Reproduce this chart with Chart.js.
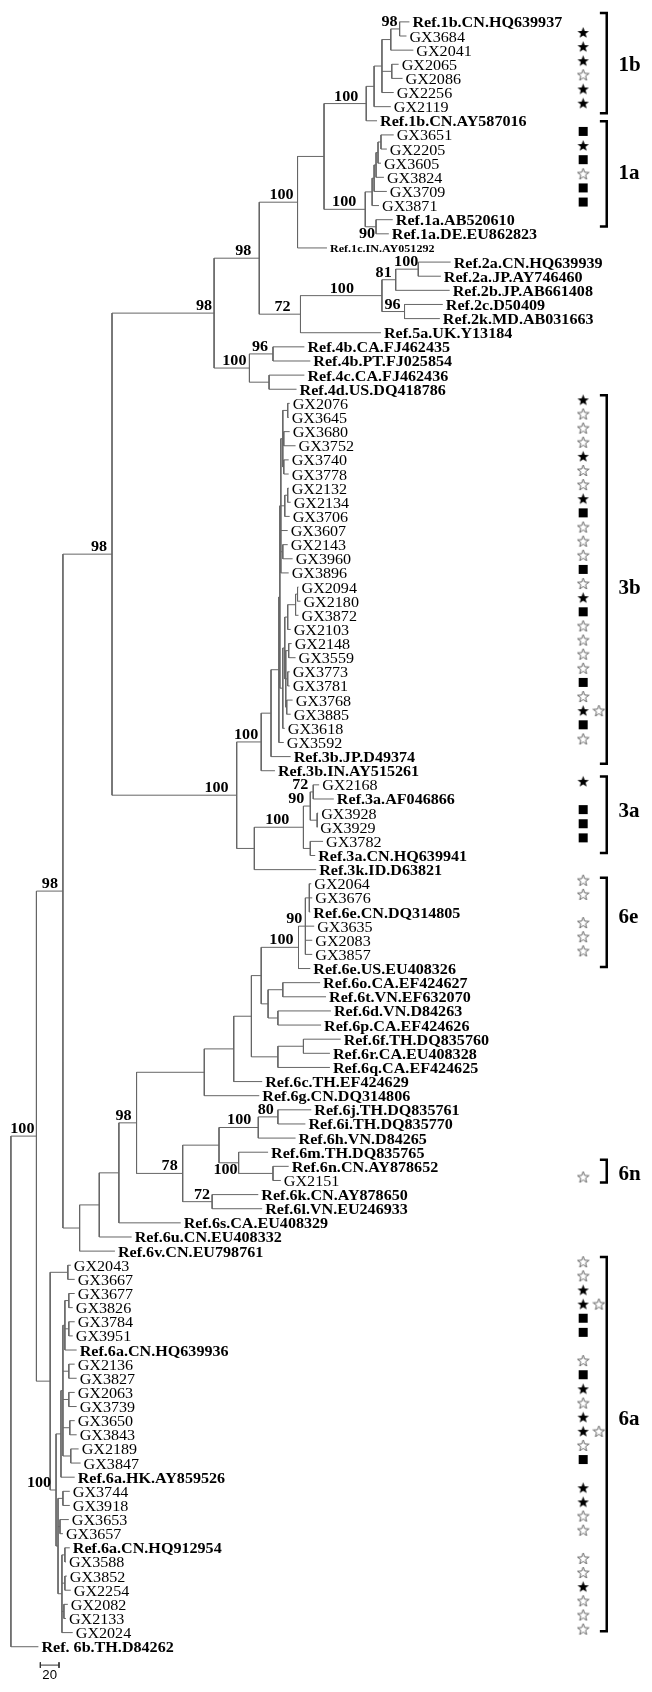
<!DOCTYPE html>
<html>
<head>
<meta charset="utf-8">
<script src="https://cdn.jsdelivr.net/npm/chart.js@4.4.1/dist/chart.umd.min.js"></script>
<style>
  html, body { margin: 0; padding: 0; background: #fff; }
  #wrap { width: 652px; height: 1692px; position: relative; }
</style>
</head>
<body>
<div id="wrap"><canvas id="tree"></canvas></div>
<script>
// leaves, top to bottom
const leafNames = [
  'Ref.1b.CN.HQ639937', 'GX3684', 'GX2041', 'GX2065', 'GX2086', 'GX2256', 'GX2119', 'Ref.1b.CN.AY587016',
  'GX3651', 'GX2205', 'GX3605', 'GX3824', 'GX3709', 'GX3871', 'Ref.1a.AB520610', 'Ref.1a.DE.EU862823',
  'Ref.1c.IN.AY051292', 'Ref.2a.CN.HQ639939', 'Ref.2a.JP.AY746460', 'Ref.2b.JP.AB661408', 'Ref.2c.D50409',
  'Ref.2k.MD.AB031663', 'Ref.5a.UK.Y13184', 'Ref.4b.CA.FJ462435', 'Ref.4b.PT.FJ025854', 'Ref.4c.CA.FJ462436',
  'Ref.4d.US.DQ418786', 'GX2076', 'GX3645', 'GX3680', 'GX3752', 'GX3740', 'GX3778', 'GX2132', 'GX2134',
  'GX3706', 'GX3607', 'GX2143', 'GX3960', 'GX3896', 'GX2094', 'GX2180', 'GX3872', 'GX2103', 'GX2148',
  'GX3559', 'GX3773', 'GX3781', 'GX3768', 'GX3885', 'GX3618', 'GX3592', 'Ref.3b.JP.D49374',
  'Ref.3b.IN.AY515261', 'GX2168', 'Ref.3a.AF046866', 'GX3928', 'GX3929', 'GX3782', 'Ref.3a.CN.HQ639941',
  'Ref.3k.ID.D63821', 'GX2064', 'GX3676', 'Ref.6e.CN.DQ314805', 'GX3635', 'GX2083', 'GX3857',
  'Ref.6e.US.EU408326', 'Ref.6o.CA.EF424627', 'Ref.6t.VN.EF632070', 'Ref.6d.VN.D84263', 'Ref.6p.CA.EF424626',
  'Ref.6f.TH.DQ835760', 'Ref.6r.CA.EU408328', 'Ref.6q.CA.EF424625', 'Ref.6c.TH.EF424629', 'Ref.6g.CN.DQ314806',
  'Ref.6j.TH.DQ835761', 'Ref.6i.TH.DQ835770', 'Ref.6h.VN.D84265', 'Ref.6m.TH.DQ835765', 'Ref.6n.CN.AY878652',
  'GX2151', 'Ref.6k.CN.AY878650', 'Ref.6l.VN.EU246933', 'Ref.6s.CA.EU408329', 'Ref.6u.CN.EU408332',
  'Ref.6v.CN.EU798761', 'GX2043', 'GX3667', 'GX3677', 'GX3826', 'GX3784', 'GX3951', 'Ref.6a.CN.HQ639936',
  'GX2136', 'GX3827', 'GX2063', 'GX3739', 'GX3650', 'GX3843', 'GX2189', 'GX3847', 'Ref.6a.HK.AY859526',
  'GX3744', 'GX3918', 'GX3653', 'GX3657', 'Ref.6a.CN.HQ912954', 'GX3588', 'GX3852', 'GX2254', 'GX2082',
  'GX2133', 'GX2024', 'Ref. 6b.TH.D84262'
]

// depth of each leaf tip (branch end), same unit as the scale bar
const leafTips = [
  411, 408, 415, 400, 404, 395, 392, 378, 395, 388,
  382, 385, 388, 380, 394, 390, 327, 453, 443, 452,
  445, 442, 382, 304, 310, 304, 296, 289, 288, 289,
  295, 288, 288, 288, 290, 289, 287, 287, 292, 288,
  298, 300, 298, 290, 291, 295, 289, 289, 292, 290,
  284, 283, 290, 274, 319, 334, 318, 317, 323, 315,
  316, 311, 312, 310, 314, 312, 312, 310, 320, 326,
  331, 321, 341, 330, 330, 261, 258, 311, 305, 295,
  267, 288, 280, 257, 261, 178, 128, 111, 66, 70,
  70, 68, 70, 68, 72, 70, 72, 70, 72, 70,
  72, 74, 76, 70, 65, 65, 64, 58, 65, 61,
  62, 66, 63, 61, 68, 33
]

// internal nodes: [id, depth, bootstrap, children (leaf number or node id), label side/shift]
const treeNodes = [
  ['n1', 401, '98', [1, 2], 3], ['n2', 392, '', ['n1', 3]], ['n3', 393, '', [4, 5]],
  ['n4', 383, '', ['n2', 'n3', 6]], ['n5', 375, '', ['n4', 7]], ['n6', 367, '100', ['n5', 8], -3],
  ['a1', 382, '', [9, 10]], ['a2', 379, '', ['a1', 11]], ['a3', 377, '', ['a2', 12]],
  ['a4', 375, '', ['a3', 13]], ['a5', 373, '', ['a4', 14]], ['a15', 377, '90', [15, 16], 'b'],
  ['a6', 366, '100', ['a5', 'a15'], -4], ['g1', 324, '', ['n6', 'a6']], ['g1c', 297, '100', ['g1', 17], 1],
  ['g2a', 420, '100', [18, 19], 5], ['g2ab', 397, '81', ['g2a', 20], 1], ['g2ck', 406, '96', [21, 22], 1],
  ['g2', 383, '100', ['g2ab', 'g2ck'], -23], ['g25', 300, '72', ['g2', 23], -5], ['g125', 258, '98', ['g1c', 'g25'], -3],
  ['g4b', 272, '96', [24, 25]], ['g4cd', 268, '', [26, 27]], ['g4', 248, '100', ['g4b', 'g4cd'], 2],
  ['g1245', 212, '98', ['g125', 'g4'], 3],
  ['p1', 287, '', [28, 29]], ['p2', 283, '', [30, 31]], ['p3', 283, '', [32, 33]],
  ['p5', 282, '', ['p1', 'p2', 'p3']], ['p4', 287, '', [34, 35]], ['p6', 284, '', ['p4', 36]],
  ['p7', 282, '', [38, 39]], ['q1', 280, '', ['p5', 'p6', 37, 'p7', 40]],
  ['p8a', 297, '', [41, 42]], ['p8', 295, '', ['p8a', 43]], ['p9', 287, '', ['p8', 44]],
  ['p10', 288, '', [45, 46]], ['p11', 287, '', [47, 48]], ['p12', 286, '', [49, 50]],
  ['p13', 285, '', ['p10', 'p11', 'p12']], ['p14', 284, '', ['p9', 'p13']], ['p15', 282, '', ['p14', 51]],
  ['q2', 279, '', ['q1', 'p15']], ['q3', 278, '', ['q2', 52]], ['q4', 270, '', ['q3', 53]],
  ['q5', 260, '100', ['q4', 54], 2],
  ['r1', 313, '72', [55, 56]], ['r2', 317, '', [57, 58]], ['r3', 310, '90', ['r1', 'r2'], -1],
  ['r4', 310, '', [59, 60]], ['r5', 303, '100', ['r3', 'r4'], -9], ['r6', 253, '', ['r5', 61]],
  ['g3', 235, '100', ['q5', 'r6'], -3], ['g12345', 108, '98', ['g1245', 'g3']],
  ['e1', 309, '', [62, 63, 64]], ['e2', 305, '90', ['e1', 65, 66, 67], 2], ['e3', 298, '100', ['e2', 68]],
  ['f1', 282, '', [69, 70]], ['f2', 277, '', [71, 72]], ['f3', 267, '', ['f1', 'f2']],
  ['f4', 260, '', ['e3', 'f3']], ['f5', 303, '', [73, 74]], ['f6', 277, '', ['f5', 75]],
  ['f7', 250, '', ['f4', 'f6']], ['f8', 232, '', ['f7', 76]], ['f9', 202, '', ['f8', 77]],
  ['h1', 277, '80', [78, 79], 1], ['h2', 257, '100', ['h1', 80], -2], ['h3', 272, '', [82, 83]],
  ['h4', 237, '100', [81, 'h3'], 'b'], ['h5', 217, '', ['h2', 'h4']], ['h6', 210, '72', [84, 85], 3],
  ['h7', 180, '78', ['h5', 'h6']], ['h8', 133, '98', ['f9', 'h7']], ['h9', 115, '', ['h8', 86]],
  ['h10', 95, '', ['h9', 87]], ['h11', 75, '', ['h10', 88]], ['gA', 58, '98', ['g12345', 'h11']],
  ['s1', 63, '', [89, 90]], ['s2', 64, '', [91, 92]], ['s3', 64, '', [93, 94]],
  ['s4', 60, '', ['s2', 's3', 95]], ['s5', 64, '', [96, 97]], ['s6', 64, '', [98, 99]],
  ['s7', 65, '', [100, 101]], ['s8', 66, '', [102, 103]], ['s9', 58, '', ['s4', 's5', 's6', 's7', 's8']],
  ['s10', 56, '', ['s9', 104]],
  ['t1', 58, '', [105, 106]], ['t2', 55, '', [107, 108]], ['t3', 60, '', [109, 110]],
  ['t4', 60, '', [111, 112]], ['t5', 59, '', [113, 114]], ['t6', 57, '', ['t3', 't4', 't5', 115]],
  ['t7', 53, '', ['t1', 't2', 't6']], ['u1', 51, '100', ['s10', 't7']], ['g6a', 45, '', ['s1', 'u1']],
  ['top', 31, '100', ['gA', 'g6a'], 3], ['root', 5, '', ['top', 116]]
]

// sample marks: F filled star, O open star, S square
const markLeaf = [2, 3, 4, 5, 6, 7, 9, 10, 11, 12, 13, 14,
  28, 29, 30, 31, 32, 33, 34, 35, 36, 37, 38, 39, 40, 41, 42, 43, 44, 45, 46, 47, 48, 49, 50, 51, 52,
  55, 57, 58, 59, 62, 63, 65, 66, 67, 83,
  89, 90, 91, 92, 93, 94, 96, 97, 98, 99, 100, 101, 102, 103, 105, 106, 107, 108, 110, 111, 112, 113, 114, 115]
const markKind = ['F', 'F', 'F', 'O', 'F', 'F', 'S', 'F', 'S', 'O', 'S', 'S',
  'F', 'O', 'O', 'O', 'F', 'O', 'O', 'F', 'S', 'O', 'O', 'O', 'S', 'O', 'F', 'S', 'O', 'O', 'O', 'O', 'S', 'O', 'FO', 'S', 'O',
  'F', 'S', 'S', 'S', 'O', 'O', 'O', 'O', 'O', 'O',
  'O', 'O', 'F', 'FO', 'S', 'S', 'O', 'S', 'F', 'O', 'F', 'FO', 'O', 'S', 'F', 'F', 'O', 'O', 'O', 'O', 'F', 'O', 'O', 'O']

// genotype brackets (in leaf rows)
const groupNames = ['1b', '1a', '3b', '3a', '6e', '6n', '6a']
const groupFrom = [-0.63, 7.03, 26.42, 53.41, 60.58, 80.54, 87.42]
const groupTo = [6.47, 14.48, 52.5, 58.82, 66.9, 82.15, 113.91]
const groupLabelRow = [2.95, 10.6, 40.0, 55.8, 63.3, 81.45, 98.8]

const scaleBarLen = 19
const scaleBarText = '20'

const ROW0 = 16, ROW = 14.23
const markCols = [588, 604]

const nodeById = {}
const parentOf = {}
treeNodes.forEach(n => {
  nodeById[n[0]] = n
  n[3].forEach(c => { parentOf[c] = n[0] })
})

const nodeY = {}
function place(ref) {
  if (typeof ref === 'number') return { x: leafTips[ref - 1], y: ref - 1 }
  const n = nodeById[ref]
  if (nodeY[ref] === undefined) {
    const kids = n[3].map(place)
    nodeY[ref] = (kids[0].y + kids[kids.length - 1].y) / 2
  }
  return { x: n[1], y: nodeY[ref] }
}

const gap = { x: NaN, y: NaN }
const branchPts = []
treeNodes.forEach(n => {
  const me = place(n[0])
  const kids = n[3].map(place)
  branchPts.push({ x: me.x, y: kids[0].y }, { x: me.x, y: kids[kids.length - 1].y }, gap)
  kids.forEach(k => branchPts.push({ x: me.x, y: k.y }, { x: k.x, y: k.y }, gap))
})

const bracketPts = []
groupNames.forEach((g, i) => {
  bracketPts.push({ x: 605, y: groupFrom[i] }, { x: 612, y: groupFrom[i] },
    { x: 612, y: groupTo[i] }, { x: 605, y: groupTo[i] }, gap)
})

const barRow = 116.3
const barPts = [
  { x: 35, y: barRow - 0.2 }, { x: 35, y: barRow + 0.2 }, gap,
  { x: 35, y: barRow }, { x: 35 + scaleBarLen, y: barRow }, gap,
  { x: 35 + scaleBarLen, y: barRow - 0.2 }, { x: 35 + scaleBarLen, y: barRow + 0.2 }
]

const markPts = []
markLeaf.forEach((leaf, i) => {
  markKind[i].split('').forEach((k, j) => markPts.push({ x: markCols[j], y: leaf - 1.25, k: k }))
})

function starPath(c, cx, cy, ro, ri) {
  c.beginPath()
  for (let i = 0; i < 10; i++) {
    const r = i % 2 ? ri : ro
    const a = -Math.PI / 2 + i * Math.PI / 5
    c.lineTo(cx + r * Math.cos(a), cy + r * Math.sin(a))
  }
  c.closePath()
}
function makeMark(kind) {
  const cv = document.createElement('canvas')
  cv.width = 13; cv.height = 13
  const c = cv.getContext('2d')
  if (kind === 'S') {
    c.fillStyle = '#000'
    c.fillRect(2, 2, 9, 9)
  } else {
    starPath(c, 6.5, 7, 6, 2.5)
    if (kind === 'F') { c.fillStyle = '#000'; c.fill() }
    else { c.strokeStyle = '#444'; c.lineWidth = 0.8; c.stroke() }
  }
  return cv
}
const markImg = { F: makeMark('F'), O: makeMark('O'), S: makeMark('S') }

function say(ctx, str, px, py, font, align, sx) {
  ctx.save()
  ctx.translate(px, py)
  ctx.scale(sx, 1)
  ctx.font = font
  ctx.textAlign = align
  ctx.textBaseline = 'alphabetic'
  ctx.fillStyle = '#000'
  ctx.fillText(str, 0, 0)
  ctx.restore()
}

const SERIF = '"Liberation Serif", "Times New Roman", serif'
const treeText = {
  id: 'treeText',
  afterDatasetsDraw(chart) {
    const ctx = chart.ctx
    const xs = chart.scales.x, ys = chart.scales.y
    // tip labels
    leafNames.forEach((name, i) => {
      const px = xs.getPixelForValue(leafTips[i]) + 3
      const py = ys.getPixelForValue(i)
      if (name.startsWith('Ref.1c')) say(ctx, name, px, py + 4, 'bold 10.5px ' + SERIF, 'left', 1.15)
      else if (name.startsWith('Ref')) say(ctx, name, px, py + 5.5, 'bold 14px ' + SERIF, 'left', 1.15)
      else say(ctx, name, px, py + 5.5, '14px ' + SERIF, 'left', 1.15)
    })
    // bootstrap values, right-aligned just left of their node
    treeNodes.forEach(n => {
      if (!n[2]) return
      const me = place(n[0])
      const nx = xs.getPixelForValue(me.x)
      const ny = ys.getPixelForValue(me.y)
      if (n[4] === 'b') {
        say(ctx, n[2], nx - 1, ny + 11, 'bold 14px ' + SERIF, 'right', 1.15)
        return
      }
      const shift = typeof n[4] === 'number' ? n[4] : 0
      say(ctx, n[2], nx - 5 + shift, ny - 3, 'bold 14px ' + SERIF, 'right', 1.15)
    })
    // genotype names
    groupNames.forEach((g, i) => {
      say(ctx, g, xs.getPixelForValue(624), ys.getPixelForValue(groupLabelRow[i]) + 7, 'bold 21px ' + SERIF, 'left', 1)
    })
    say(ctx, scaleBarText, xs.getPixelForValue(35 + scaleBarLen / 2), ys.getPixelForValue(barRow) + 14,
      '12px "Liberation Sans", Arial, sans-serif', 'center', 1.1)
  }
}

new Chart(document.getElementById('tree'), {
  type: 'scatter',
  data: {
    datasets: [
      { data: branchPts, showLine: true, borderColor: '#666', borderWidth: 1, pointRadius: 0, spanGaps: false },
      { data: bracketPts, showLine: true, borderColor: '#000', borderWidth: 2.5, pointRadius: 0, spanGaps: false },
      { data: barPts, showLine: true, borderColor: '#333', borderWidth: 1, pointRadius: 0, spanGaps: false },
      { data: markPts, showLine: false, pointRadius: 5, pointStyle: c => markImg[c.raw.k] }
    ]
  },
  options: {
    responsive: true,
    maintainAspectRatio: false,
    animation: false,
    events: [],
    layout: { padding: 0 },
    plugins: { legend: { display: false }, tooltip: { enabled: false } },
    scales: {
      x: { type: 'linear', min: 0, max: 652, display: false },
      y: { type: 'linear', reverse: true, min: -ROW0 / ROW, max: (1692 - ROW0) / ROW, display: false }
    }
  },
  plugins: [treeText]
})
</script>
</body>
</html>
